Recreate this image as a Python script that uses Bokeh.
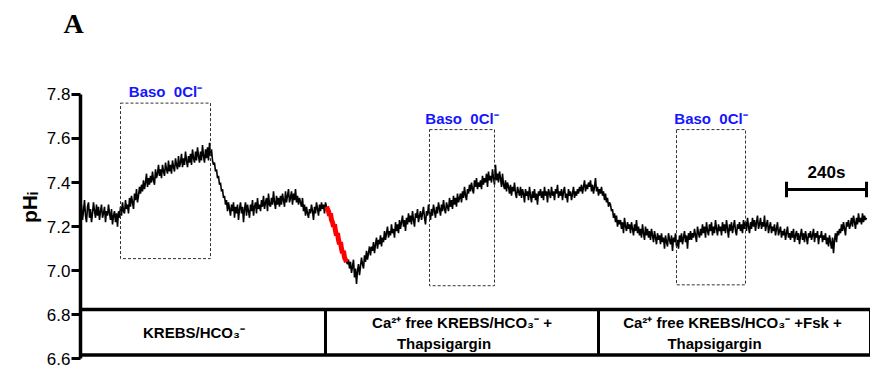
import math
from bokeh.plotting import figure
from bokeh.models import Label, Range1d, FixedTicker
from bokeh.embed import file_html
from bokeh.resources import INLINE

# ---------------- data ----------------
SAMPLE_S = 3  # seconds between samples
ph_values = [
    7.26, 7.30, 7.23, 7.27, 7.32, 7.25, 7.22, 7.29, 7.31, 7.24,
    7.28, 7.22, 7.26, 7.31, 7.27, 7.24, 7.30, 7.25, 7.29, 7.23,
    7.27, 7.30, 7.24, 7.26, 7.29, 7.22, 7.27, 7.25, 7.30, 7.26,
    7.23, 7.28, 7.21, 7.25, 7.27, 7.22, 7.26, 7.20, 7.27, 7.24,
    7.29, 7.25, 7.31, 7.27, 7.26, 7.32, 7.28, 7.30, 7.26, 7.33,
    7.29, 7.34, 7.31, 7.28, 7.35, 7.32, 7.37, 7.31, 7.34, 7.38,
    7.35, 7.39, 7.36, 7.41, 7.37, 7.40, 7.44, 7.38, 7.42, 7.39,
    7.43, 7.40, 7.45, 7.41, 7.39, 7.46, 7.42, 7.44, 7.48, 7.43,
    7.46, 7.42, 7.48, 7.45, 7.43, 7.49, 7.46, 7.44, 7.50, 7.45,
    7.48, 7.44, 7.50, 7.47, 7.45, 7.51, 7.48, 7.46, 7.52, 7.47,
    7.49, 7.53, 7.47, 7.51, 7.48, 7.54, 7.50, 7.47, 7.52, 7.49,
    7.53, 7.48, 7.55, 7.51, 7.49, 7.54, 7.50, 7.56, 7.52, 7.49,
    7.54, 7.50, 7.57, 7.52, 7.49, 7.55, 7.51, 7.56, 7.50, 7.58,
    7.52, 7.55, 7.50, 7.48, 7.49, 7.45, 7.46, 7.42, 7.43, 7.39,
    7.40, 7.36, 7.37, 7.33, 7.34, 7.30, 7.32, 7.27, 7.31, 7.28,
    7.25, 7.30, 7.27, 7.31, 7.24, 7.29, 7.26, 7.30, 7.23, 7.28,
    7.31, 7.26, 7.29, 7.22, 7.28, 7.31, 7.25, 7.30, 7.27, 7.24,
    7.30, 7.27, 7.32, 7.25, 7.29, 7.31, 7.26, 7.33, 7.28, 7.30,
    7.27, 7.32, 7.29, 7.34, 7.28, 7.31, 7.33, 7.27, 7.35, 7.30,
    7.29, 7.33, 7.30, 7.36, 7.31, 7.28, 7.34, 7.30, 7.33, 7.29,
    7.34, 7.30, 7.35, 7.32, 7.29, 7.36, 7.31, 7.34, 7.37, 7.31,
    7.33, 7.36, 7.30, 7.35, 7.32, 7.37, 7.31, 7.34, 7.30, 7.33,
    7.31, 7.29, 7.33, 7.27, 7.30, 7.25, 7.29, 7.26, 7.24, 7.28,
    7.26, 7.30, 7.27, 7.23, 7.29, 7.26, 7.31, 7.28, 7.25, 7.30,
    7.27, 7.31, 7.28, 7.30, 7.26, 7.31, 7.29,
    7.28, 7.27, 7.25, 7.26, 7.23, 7.22, 7.20, 7.21, 7.18, 7.16,
    7.17, 7.14, 7.12, 7.13, 7.10, 7.08, 7.09, 7.06, 7.05, 7.04,
    7.03, 7.05, 7.01, 7.04, 6.99, 7.02, 7.05, 6.97, 7.01, 6.94, 7.00, 7.03, 6.98,
    7.02, 7.06, 7.03, 7.01, 7.07, 7.04, 7.09, 7.05, 7.08, 7.11,
    7.07, 7.11, 7.09, 7.13, 7.08, 7.12, 7.15, 7.10, 7.14, 7.12,
    7.16, 7.11, 7.15, 7.13, 7.18, 7.14, 7.17, 7.20, 7.15, 7.18,
    7.16, 7.21, 7.17, 7.19, 7.15, 7.22, 7.18, 7.21, 7.17, 7.23,
    7.19, 7.22, 7.25, 7.20, 7.23, 7.18, 7.24, 7.21, 7.26, 7.22,
    7.25, 7.21, 7.27, 7.23, 7.20, 7.26, 7.24, 7.28, 7.22, 7.25,
    7.27, 7.23, 7.26, 7.29, 7.24, 7.21, 7.27, 7.25, 7.30, 7.26,
    7.23, 7.28, 7.25, 7.30, 7.27, 7.24, 7.29, 7.26, 7.31, 7.28,
    7.25, 7.30, 7.27, 7.32, 7.28, 7.26, 7.31, 7.29, 7.27, 7.33,
    7.29, 7.32, 7.28, 7.34, 7.30, 7.33, 7.29, 7.35, 7.31, 7.33,
    7.35, 7.31, 7.36, 7.33, 7.38, 7.34, 7.32, 7.37, 7.35, 7.39,
    7.36, 7.40, 7.37, 7.35, 7.41, 7.38, 7.42, 7.37, 7.40, 7.38,
    7.41, 7.37, 7.43, 7.39, 7.42, 7.40, 7.44, 7.38, 7.45, 7.41,
    7.43, 7.40, 7.46, 7.42, 7.39, 7.48, 7.41, 7.44, 7.40, 7.45,
    7.42, 7.38, 7.44, 7.39, 7.37, 7.41, 7.36, 7.40, 7.38, 7.35,
    7.39, 7.34, 7.38, 7.36, 7.40, 7.35, 7.33, 7.38, 7.36, 7.34,
    7.38, 7.33, 7.37, 7.35, 7.31, 7.37, 7.34, 7.36, 7.32, 7.38,
    7.34, 7.31, 7.36, 7.33, 7.37, 7.32, 7.35, 7.30, 7.36, 7.34,
    7.37, 7.33, 7.36, 7.32, 7.38, 7.34, 7.36, 7.31, 7.37, 7.35,
    7.33, 7.38, 7.34, 7.36, 7.32, 7.37, 7.35, 7.39, 7.33, 7.36,
    7.34, 7.37, 7.32, 7.36, 7.38, 7.33, 7.35, 7.31, 7.37, 7.34,
    7.36, 7.32, 7.35, 7.38, 7.33, 7.36, 7.34, 7.37, 7.35, 7.38,
    7.36, 7.39, 7.35, 7.38, 7.41, 7.36, 7.39, 7.37, 7.40, 7.38,
    7.41, 7.36, 7.39, 7.35, 7.38, 7.42, 7.36, 7.38, 7.34, 7.37,
    7.35, 7.38, 7.34, 7.36, 7.32, 7.35, 7.31, 7.33, 7.29, 7.31,
    7.30, 7.27, 7.28, 7.24, 7.26, 7.22, 7.25, 7.20, 7.23, 7.21,
    7.23, 7.19, 7.22, 7.17, 7.24, 7.20, 7.18, 7.22, 7.19, 7.21,
    7.17, 7.22, 7.19, 7.16, 7.21, 7.18, 7.23, 7.17, 7.20, 7.16,
    7.19, 7.15, 7.21, 7.17, 7.14, 7.20, 7.16, 7.19, 7.15, 7.18,
    7.14, 7.19, 7.16, 7.13, 7.18, 7.15, 7.12, 7.17, 7.14, 7.16,
    7.12, 7.17, 7.13, 7.15, 7.10, 7.16, 7.13, 7.11, 7.17, 7.14,
    7.12, 7.16, 7.09, 7.15, 7.13, 7.17, 7.11, 7.14, 7.10, 7.16,
    7.13, 7.17, 7.12, 7.15, 7.18, 7.13, 7.16, 7.10, 7.17, 7.14,
    7.18, 7.14, 7.17, 7.15, 7.19, 7.16, 7.13, 7.20, 7.17, 7.15,
    7.19, 7.16, 7.21, 7.17, 7.20, 7.15, 7.22, 7.18, 7.16, 7.21,
    7.18, 7.22, 7.16, 7.20, 7.17, 7.23, 7.19, 7.16, 7.21, 7.18,
    7.20, 7.16, 7.22, 7.18, 7.21, 7.17, 7.23, 7.19, 7.15, 7.21,
    7.18, 7.22, 7.17, 7.20, 7.23, 7.18, 7.16, 7.21, 7.19, 7.22,
    7.18, 7.21, 7.17, 7.23, 7.19, 7.22, 7.18, 7.24, 7.20, 7.17,
    7.22, 7.19, 7.24, 7.20, 7.23, 7.18, 7.22, 7.25, 7.19, 7.21,
    7.24, 7.19, 7.22, 7.20, 7.25, 7.18, 7.21, 7.23, 7.17, 7.20,
    7.22, 7.17, 7.20, 7.18, 7.21, 7.16, 7.19, 7.22, 7.16, 7.18,
    7.20, 7.15, 7.18, 7.16, 7.19, 7.14, 7.17, 7.20, 7.15, 7.17,
    7.14, 7.18, 7.15, 7.19, 7.13, 7.16, 7.18, 7.14, 7.17, 7.12,
    7.16, 7.19, 7.14, 7.17, 7.13, 7.18, 7.15, 7.12, 7.17, 7.15,
    7.18, 7.14, 7.16, 7.19, 7.13, 7.17, 7.15, 7.18, 7.12, 7.16,
    7.15, 7.18, 7.13, 7.16, 7.14, 7.17, 7.12, 7.15, 7.11, 7.16,
    7.13, 7.10, 7.15, 7.08, 7.14, 7.17, 7.13, 7.18, 7.16, 7.19,
    7.17, 7.21, 7.18, 7.22, 7.19, 7.16, 7.22, 7.20, 7.23, 7.19,
    7.21, 7.24, 7.20, 7.25, 7.22, 7.19, 7.24, 7.21, 7.26, 7.22,
    7.24, 7.21, 7.26, 7.22, 7.25, 7.23, 7.24,
]
time_s = [SAMPLE_S * i for i in range(len(ph_values))]

red_start_s, red_end_s = 738, 798          # highlighted acidification
solution_change_s = [735, 1554]            # solution switches
solution_lines1 = ["KREBS/HCO₃⁻", "Ca²⁺ free KREBS/HCO₃⁻ +", "Ca²⁺ free KREBS/HCO₃⁻ +Fsk +"]
solution_lines2 = ["", "Thapsigargin", "Thapsigargin"]

baso_label = "Baso \u00a00Cl⁻"
baso_start_s = [120, 1047, 1788]
baso_end_s = [390, 1242, 1995]
baso_top = [7.76, 7.64, 7.64]
baso_bottom = [7.055, 6.932, 6.936]

y_ticks = [6.6, 6.8, 7.0, 7.2, 7.4, 7.6, 7.8]
band_top, band_bottom = 6.824, 6.618
scale_bar_s = 240
scale_bar_ph = 7.368

# ---------------- figure ----------------
t_end = time_s[-1] + 12
p = figure(width=870, height=368, output_backend="svg", toolbar_location=None,
           x_range=Range1d(0, t_end), y_range=Range1d(6.5567, 8.0167),
           min_border_left=80, min_border_right=0, min_border_top=46, min_border_bottom=0,
           title="A")
p.title.text_font = "Liberation Serif"
p.title.text_font_style = "bold"
p.title.text_font_size = "28px"
p.title.text_color = "black"
p.title.align = "left"
p.title.vertical_align = "top"
p.title.offset = -17
p.title.standoff = 12
p.outline_line_color = None
p.grid.visible = False
p.xaxis.visible = False

ax = p.yaxis[0]
ax.ticker = FixedTicker(ticks=y_ticks)
ax.bounds = (6.6, 7.8)
ax.axis_line_width = 3.5
ax.axis_line_color = "black"
ax.major_tick_line_width = 3
ax.major_tick_out = 9
ax.major_tick_in = 0
ax.minor_tick_line_color = None
ax.major_label_text_font = "Liberation Sans"
ax.major_label_text_font_size = "17px"
ax.major_label_text_color = "black"
ax.major_label_standoff = 1
ax.major_label_overrides = {t: f"{t:.1f}" for t in y_ticks}
ax.axis_label = "pHᵢ"
ax.axis_label_text_font = "Liberation Sans"
ax.axis_label_text_font_style = "bold"
ax.axis_label_text_font_size = "21px"
ax.axis_label_text_color = "black"
ax.axis_label_standoff = 3

# trace
p.line(time_s, ph_values, line_color="black", line_width=1.6)
red_t = [t for t in time_s if red_start_s <= t <= red_end_s]
red_v = [v for t, v in zip(time_s, ph_values) if red_start_s <= t <= red_end_s]
p.line(red_t, red_v, line_color="#ff0000", line_width=5)

# Baso boxes
p.quad(left=baso_start_s, right=baso_end_s, top=baso_top, bottom=baso_bottom,
       fill_color=None, line_color="#333333", line_width=1, line_dash="3 2")
for s, e, top in zip(baso_start_s, baso_end_s, baso_top):
    p.add_layout(Label(x=(s + e) / 2, y=top, y_offset=3, text=baso_label,
                       text_align="center", text_baseline="bottom",
                       text_font="Liberation Sans", text_font_style="bold",
                       text_font_size="15px", text_color="#1515ff"))

# solution band
p.segment(x0=[0, 0], x1=[t_end, t_end], y0=[band_top, band_bottom], y1=[band_top, band_bottom],
          line_color="black", line_width=3.5)
p.segment(x0=solution_change_s + [t_end], x1=solution_change_s + [t_end],
          y0=[band_bottom] * 3, y1=[band_top] * 3, line_color="black", line_width=3)
bounds = [0] + solution_change_s + [time_s[-1]]
mid_ph = (band_top + band_bottom) / 2
for i in range(3):
    cx = (bounds[i] + bounds[i + 1]) / 2
    if solution_lines2[i]:
        p.add_layout(Label(x=cx, y=mid_ph, y_offset=10, text=solution_lines1[i],
                           text_align="center", text_baseline="middle",
                           text_font="Liberation Sans", text_font_style="bold",
                           text_font_size="15px", text_color="black"))
        p.add_layout(Label(x=cx, y=mid_ph, x_offset=-18, y_offset=-11, text=solution_lines2[i],
                           text_align="center", text_baseline="middle",
                           text_font="Liberation Sans", text_font_style="bold",
                           text_font_size="15px", text_color="black"))
    else:
        p.add_layout(Label(x=cx, y=mid_ph, x_offset=-9, text=solution_lines1[i],
                           text_align="center", text_baseline="middle",
                           text_font="Liberation Sans", text_font_style="bold",
                           text_font_size="15px", text_color="black"))

# scale bar
sb_x1 = time_s[-1]
sb_x0 = sb_x1 - scale_bar_s
p.segment(x0=[sb_x0], x1=[sb_x1], y0=[scale_bar_ph], y1=[scale_bar_ph], line_color="black", line_width=3)
p.segment(x0=[sb_x0, sb_x1], x1=[sb_x0, sb_x1], y0=[scale_bar_ph - 0.035] * 2, y1=[scale_bar_ph + 0.035] * 2,
          line_color="black", line_width=3)
p.add_layout(Label(x=(sb_x0 + sb_x1) / 2, y=scale_bar_ph, y_offset=8, text=f"{scale_bar_s}s",
                   text_align="center", text_baseline="bottom",
                   text_font="Liberation Sans", text_font_style="bold",
                   text_font_size="17px", text_color="black"))

open("out.html", "w").write(file_html(p, INLINE))
